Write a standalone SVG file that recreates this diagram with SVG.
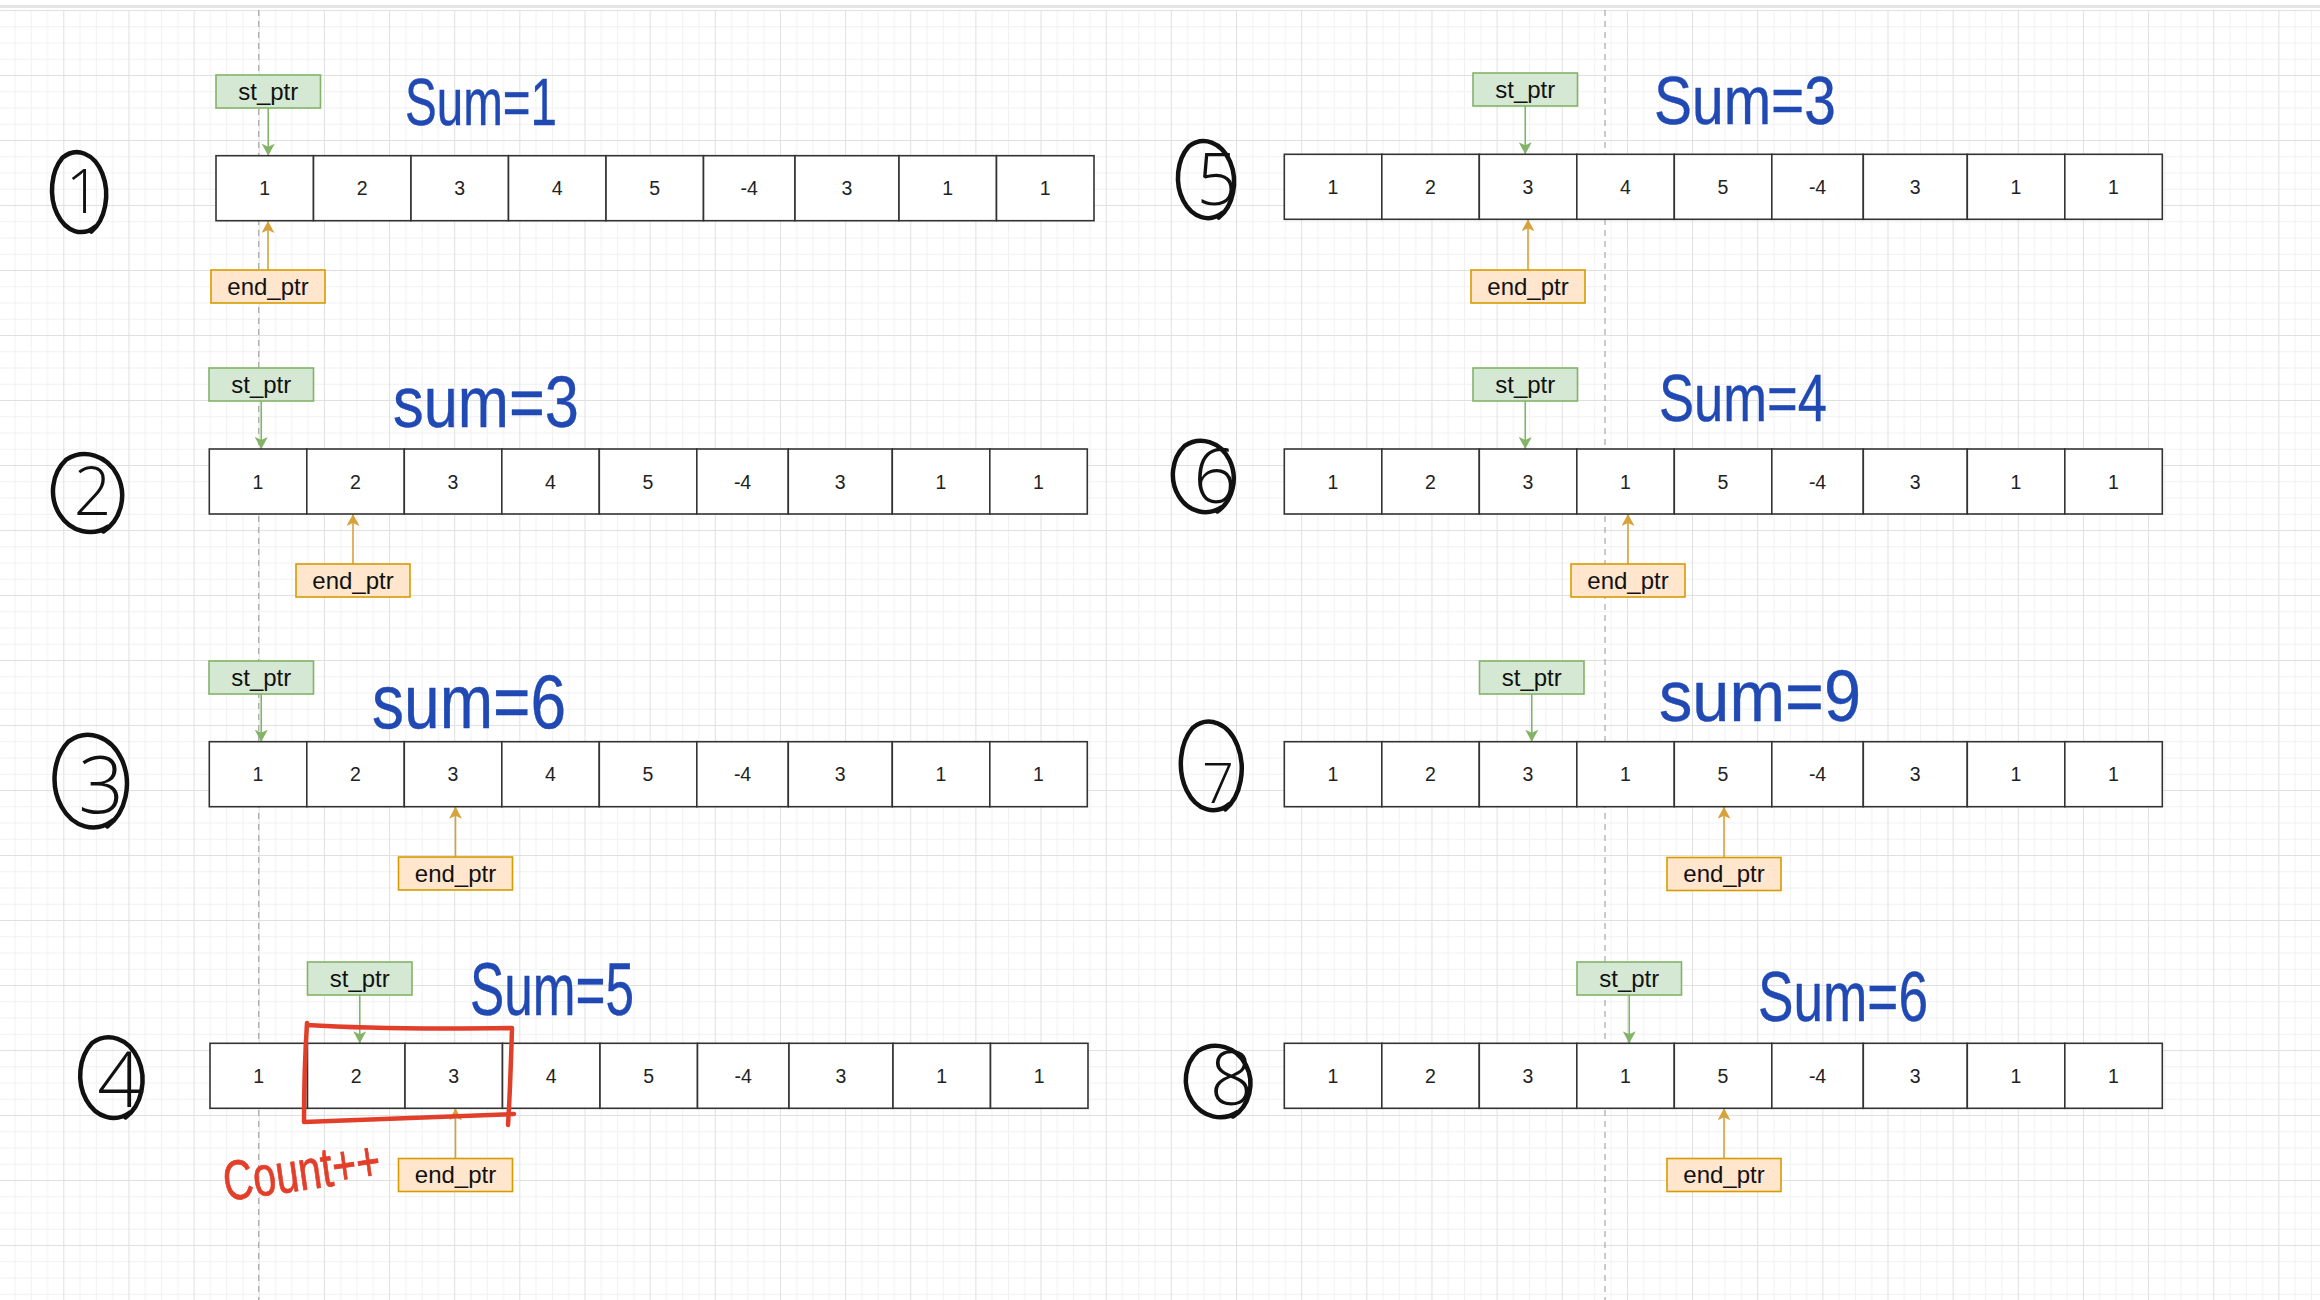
<svg xmlns="http://www.w3.org/2000/svg" xmlns:xlink="http://www.w3.org/1999/xlink" width="2320" height="1300" viewBox="0 0 2320 1300">
<style>
.cell{fill:#fff;stroke:#333;stroke-width:1.6}
.num{font-family:'Liberation Sans',Arial,sans-serif;font-size:19.5px;fill:#222;text-anchor:middle}
.stb{fill:#d5e8d4;stroke:#82b366;stroke-width:1.6}
.enb{fill:#ffe6cc;stroke:#d79b00;stroke-width:1.6}
.lbl{font-family:'Liberation Sans',Arial,sans-serif;font-size:24px;fill:#111;text-anchor:middle}
.cg{fill:none;stroke:#82b366;stroke-width:1.6;marker-end:url(#ag)}
.co{fill:none;stroke:#d6a23c;stroke-width:1.6;marker-end:url(#ao)}
.ring{fill:none;stroke:#111;stroke-width:4.5;stroke-linecap:round;stroke-linejoin:round}
.dig{font-family:'Open Sans','Liberation Sans',sans-serif;font-weight:300;fill:#111;text-anchor:middle}
.sum{font-family:'Liberation Sans',Arial,sans-serif;fill:#2149b4;stroke:#2149b4;stroke-width:0.4;stroke-linejoin:round}
.red{font-family:'Liberation Sans',Arial,sans-serif;fill:#e23f2b;stroke:#e23f2b;stroke-width:0.8;stroke-linejoin:round}
.redbox{fill:none;stroke:#e23f2b;stroke-width:4.5;stroke-linecap:round;stroke-linejoin:round}
</style>
<defs>
<pattern id="grid" x="63.3" y="10" width="65.15" height="65" patternUnits="userSpaceOnUse">
<path d="M16.79 0V65M33.075 0V65M49.36 0V65M0 16.75H65.15M0 33H65.15M0 49.25H65.15" stroke="#f1f1f1" stroke-width="1" fill="none"/>
<path d="M0.5 0V65M0 0.5H65.15" stroke="#e0e0e0" stroke-width="1" fill="none"/>
</pattern>
<marker id="ag" viewBox="0 0 12 13" refX="12" refY="6.5" markerWidth="12" markerHeight="13" markerUnits="userSpaceOnUse" orient="auto"><path d="M0,0 L12,6.5 L0,13 L3,6.5 Z" fill="#82b366"/></marker>
<marker id="ao" viewBox="0 0 12 13" refX="12" refY="6.5" markerWidth="12" markerHeight="13" markerUnits="userSpaceOnUse" orient="auto"><path d="M0,0 L12,6.5 L0,13 L3,6.5 Z" fill="#d6a23c"/></marker>
<g id="cells">
<rect class="cell" x="0" y="0" width="97.5" height="65"/>
<rect class="cell" x="97.5" y="0" width="97.5" height="65"/>
<rect class="cell" x="195" y="0" width="97.5" height="65"/>
<rect class="cell" x="292.5" y="0" width="97.5" height="65"/>
<rect class="cell" x="390" y="0" width="97.5" height="65"/>
<rect class="cell" x="487.5" y="0" width="91.5" height="65"/>
<rect class="cell" x="579" y="0" width="104" height="65"/>
<rect class="cell" x="683" y="0" width="97.5" height="65"/>
<rect class="cell" x="780.5" y="0" width="97.5" height="65"/>
</g>
</defs>

<g id="background">
<rect x="0" y="0" width="2320" height="1300" fill="#ffffff"/>
<rect x="0" y="10" width="2320" height="1290" fill="url(#grid)"/>
<rect x="0" y="5" width="2320" height="3" fill="#e4e4e4"/>
<line x1="258.7" y1="10" x2="258.7" y2="1300" stroke="#a8a8a8" stroke-width="1.2" stroke-dasharray="6 5"/>
<line x1="1605" y1="10" x2="1605" y2="1300" stroke="#a8a8a8" stroke-width="1.2" stroke-dasharray="6 5"/>
</g>

<g id="connectors">
<line class="cg" x1="268.25" y1="108" x2="268.25" y2="155.7"/>
<line class="co" x1="268" y1="270" x2="268" y2="221"/>
<line class="cg" x1="261.25" y1="401" x2="261.25" y2="449"/>
<line class="co" x1="353" y1="564" x2="353" y2="514"/>
<line class="cg" x1="261.25" y1="694" x2="261.25" y2="741.7"/>
<line class="co" x1="455.5" y1="857" x2="455.5" y2="806.7"/>
<line class="cg" x1="359.75" y1="995" x2="359.75" y2="1043.3"/>
<line class="co" x1="455.5" y1="1158.5" x2="455.5" y2="1108.3"/>
<line class="cg" x1="1525.25" y1="106" x2="1525.25" y2="154.3"/>
<line class="co" x1="1528" y1="270" x2="1528" y2="219.3"/>
<line class="cg" x1="1525.25" y1="401" x2="1525.25" y2="449"/>
<line class="co" x1="1628" y1="564" x2="1628" y2="514"/>
<line class="cg" x1="1531.75" y1="694" x2="1531.75" y2="741.7"/>
<line class="co" x1="1724" y1="857.5" x2="1724" y2="806.7"/>
<line class="cg" x1="1629.25" y1="995" x2="1629.25" y2="1043.3"/>
<line class="co" x1="1724" y1="1158.5" x2="1724" y2="1108.3"/>
</g>

<!-- Panel 1 -->
<g id="p1-array" transform="translate(216,155.7)">
<use href="#cells"/>
<text class="num" x="48.75" y="39.5">1</text><text class="num" x="146.25" y="39.5">2</text><text class="num" x="243.75" y="39.5">3</text><text class="num" x="341.25" y="39.5">4</text><text class="num" x="438.75" y="39.5">5</text><text class="num" x="533.25" y="39.5">-4</text><text class="num" x="631" y="39.5">3</text><text class="num" x="731.75" y="39.5">1</text><text class="num" x="829.25" y="39.5">1</text>
</g>
<g id="p1-st"><rect class="stb" x="216" y="75" width="104.5" height="33"/><text class="lbl" x="268.25" y="99.5">st_ptr</text></g>
<g id="p1-end"><rect class="enb" x="211" y="270" width="114" height="33"/><text class="lbl" x="268" y="294.5">end_ptr</text></g>
<g id="p1-num"><path class="ring" d="M95.5,226.4 A29,42 0 0 1 62.4,157.8 A29,42 0 1 1 91.4,231.5"/><text class="dig" x="83" y="213" font-size="60">1</text></g>
<g id="p1-sum"><text class="sum" x="405" y="125" font-size="66" textLength="152" lengthAdjust="spacingAndGlyphs">Sum=1</text></g>

<!-- Panel 2 -->
<g id="p2-array" transform="translate(209.3,449)">
<use href="#cells"/>
<text class="num" x="48.75" y="39.5">1</text><text class="num" x="146.25" y="39.5">2</text><text class="num" x="243.75" y="39.5">3</text><text class="num" x="341.25" y="39.5">4</text><text class="num" x="438.75" y="39.5">5</text><text class="num" x="533.25" y="39.5">-4</text><text class="num" x="631" y="39.5">3</text><text class="num" x="731.75" y="39.5">1</text><text class="num" x="829.25" y="39.5">1</text>
</g>
<g id="p2-st"><rect class="stb" x="209" y="368" width="104.5" height="33"/><text class="lbl" x="261.25" y="392.5">st_ptr</text></g>
<g id="p2-end"><rect class="enb" x="296" y="564" width="114" height="33"/><text class="lbl" x="353" y="588.5">end_ptr</text></g>
<g id="p2-num"><path class="ring" d="M108.5,526.5 A37,41 0 0 1 66.2,459.6 A37,41 0 1 1 103.3,531.5"/><text class="dig" x="92.5" y="515" font-size="66">2</text></g>
<g id="p2-sum"><text class="sum" x="393" y="427" font-size="72" textLength="186" lengthAdjust="spacingAndGlyphs">sum=3</text></g>

<!-- Panel 3 -->
<g id="p3-array" transform="translate(209.3,741.7)">
<use href="#cells"/>
<text class="num" x="48.75" y="39.5">1</text><text class="num" x="146.25" y="39.5">2</text><text class="num" x="243.75" y="39.5">3</text><text class="num" x="341.25" y="39.5">4</text><text class="num" x="438.75" y="39.5">5</text><text class="num" x="533.25" y="39.5">-4</text><text class="num" x="631" y="39.5">3</text><text class="num" x="731.75" y="39.5">1</text><text class="num" x="829.25" y="39.5">1</text>
</g>
<g id="p3-st"><rect class="stb" x="209" y="661" width="104.5" height="33"/><text class="lbl" x="261.25" y="685.5">st_ptr</text></g>
<g id="p3-end"><rect class="enb" x="398.5" y="857" width="114" height="33"/><text class="lbl" x="455.5" y="881.5">end_ptr</text></g>
<g id="p3-num"><path class="ring" d="M112.8,820.5 A38.5,48.5 0 0 1 68.7,741.3 A38.5,48.5 0 1 1 107.3,826.4"/><text class="dig" x="101" y="813" font-size="80">3</text></g>
<g id="p3-sum"><text class="sum" x="372" y="728" font-size="76" textLength="194" lengthAdjust="spacingAndGlyphs">sum=6</text></g>

<!-- Panel 4 -->
<g id="p4-array" transform="translate(210,1043.3)">
<use href="#cells"/>
<text class="num" x="48.75" y="39.5">1</text><text class="num" x="146.25" y="39.5">2</text><text class="num" x="243.75" y="39.5">3</text><text class="num" x="341.25" y="39.5">4</text><text class="num" x="438.75" y="39.5">5</text><text class="num" x="533.25" y="39.5">-4</text><text class="num" x="631" y="39.5">3</text><text class="num" x="731.75" y="39.5">1</text><text class="num" x="829.25" y="39.5">1</text>
</g>
<g id="p4-st"><rect class="stb" x="307.5" y="962" width="104.5" height="33"/><text class="lbl" x="359.75" y="986.5">st_ptr</text></g>
<g id="p4-end"><rect class="enb" x="398.5" y="1158.5" width="114" height="33"/><text class="lbl" x="455.5" y="1183">end_ptr</text></g>
<g id="p4-num"><path class="ring" d="M130.3,1112.3 A33.5,42.5 0 0 1 92,1043 A33.5,42.5 0 1 1 125.5,1117.4"/><text class="dig" x="119.5" y="1107" font-size="78">4</text></g>
<g id="p4-sum"><text class="sum" x="470" y="1015" font-size="74" textLength="164" lengthAdjust="spacingAndGlyphs">Sum=5</text></g>
<g id="p4-highlight">
<path class="redbox" d="M307,1025 C370,1029 440,1029 512,1028 C511,1060 510,1095 508,1125 M514,1114 C440,1117 370,1120 304,1122 C304,1090 305,1055 307,1023"/>
<text class="red" x="226" y="1201" font-size="56" textLength="158" lengthAdjust="spacingAndGlyphs" transform="rotate(-8 226 1201)">Count++</text>
</g>

<!-- Panel 5 -->
<g id="p5-array" transform="translate(1284.3,154.3)">
<use href="#cells"/>
<text class="num" x="48.75" y="39.5">1</text><text class="num" x="146.25" y="39.5">2</text><text class="num" x="243.75" y="39.5">3</text><text class="num" x="341.25" y="39.5">4</text><text class="num" x="438.75" y="39.5">5</text><text class="num" x="533.25" y="39.5">-4</text><text class="num" x="631" y="39.5">3</text><text class="num" x="731.75" y="39.5">1</text><text class="num" x="829.25" y="39.5">1</text>
</g>
<g id="p5-st"><rect class="stb" x="1473" y="73" width="104.5" height="33"/><text class="lbl" x="1525.25" y="97.5">st_ptr</text></g>
<g id="p5-end"><rect class="enb" x="1471" y="270" width="114" height="33"/><text class="lbl" x="1528" y="294.5">end_ptr</text></g>
<g id="p5-num"><path class="ring" d="M1223,212.6 A30,40.5 0 0 1 1188.7,146.5 A30,40.5 0 1 1 1218.8,217.5"/><text class="dig" x="1217" y="205" font-size="72">5</text></g>
<g id="p5-sum"><text class="sum" x="1654" y="124" font-size="68" textLength="182" lengthAdjust="spacingAndGlyphs">Sum=3</text></g>

<!-- Panel 6 -->
<g id="p6-array" transform="translate(1284.3,449)">
<use href="#cells"/>
<text class="num" x="48.75" y="39.5">1</text><text class="num" x="146.25" y="39.5">2</text><text class="num" x="243.75" y="39.5">3</text><text class="num" x="341.25" y="39.5">1</text><text class="num" x="438.75" y="39.5">5</text><text class="num" x="533.25" y="39.5">-4</text><text class="num" x="631" y="39.5">3</text><text class="num" x="731.75" y="39.5">1</text><text class="num" x="829.25" y="39.5">1</text>
</g>
<g id="p6-st"><rect class="stb" x="1473" y="368" width="104.5" height="33"/><text class="lbl" x="1525.25" y="392.5">st_ptr</text></g>
<g id="p6-end"><rect class="enb" x="1571" y="564" width="114" height="33"/><text class="lbl" x="1628" y="588.5">end_ptr</text></g>
<g id="p6-num"><path class="ring" d="M1221.8,507 A32.5,37.5 0 0 1 1184.6,445.8 A32.5,37.5 0 1 1 1217.2,511.5"/><text class="dig" x="1215" y="503" font-size="76">6</text></g>
<g id="p6-sum"><text class="sum" x="1659" y="421" font-size="66" textLength="168" lengthAdjust="spacingAndGlyphs">Sum=4</text></g>

<!-- Panel 7 -->
<g id="p7-array" transform="translate(1284.3,741.7)">
<use href="#cells"/>
<text class="num" x="48.75" y="39.5">1</text><text class="num" x="146.25" y="39.5">2</text><text class="num" x="243.75" y="39.5">3</text><text class="num" x="341.25" y="39.5">1</text><text class="num" x="438.75" y="39.5">5</text><text class="num" x="533.25" y="39.5">-4</text><text class="num" x="631" y="39.5">3</text><text class="num" x="731.75" y="39.5">1</text><text class="num" x="829.25" y="39.5">1</text>
</g>
<g id="p7-st"><rect class="stb" x="1479.5" y="661" width="104.5" height="33"/><text class="lbl" x="1531.75" y="685.5">st_ptr</text></g>
<g id="p7-end"><rect class="enb" x="1667" y="857.5" width="114" height="33"/><text class="lbl" x="1724" y="882">end_ptr</text></g>
<g id="p7-num"><path class="ring" d="M1229.8,803.8 A32.5,46.5 0 0 1 1192.6,727.9 A32.5,46.5 0 1 1 1225.2,809.4"/><text class="dig" x="1218" y="803" font-size="56">7</text></g>
<g id="p7-sum"><text class="sum" x="1659" y="721" font-size="72" textLength="202" lengthAdjust="spacingAndGlyphs">sum=9</text></g>

<!-- Panel 8 -->
<g id="p8-array" transform="translate(1284.3,1043.3)">
<use href="#cells"/>
<text class="num" x="48.75" y="39.5">1</text><text class="num" x="146.25" y="39.5">2</text><text class="num" x="243.75" y="39.5">3</text><text class="num" x="341.25" y="39.5">1</text><text class="num" x="438.75" y="39.5">5</text><text class="num" x="533.25" y="39.5">-4</text><text class="num" x="631" y="39.5">3</text><text class="num" x="731.75" y="39.5">1</text><text class="num" x="829.25" y="39.5">1</text>
</g>
<g id="p8-st"><rect class="stb" x="1577" y="962" width="104.5" height="33"/><text class="lbl" x="1629.25" y="986.5">st_ptr</text></g>
<g id="p8-end"><rect class="enb" x="1667" y="1158.5" width="114" height="33"/><text class="lbl" x="1724" y="1183">end_ptr</text></g>
<g id="p8-num"><path class="ring" d="M1237.8,1112 A34.5,37.5 0 0 1 1198.3,1050.8 A34.5,37.5 0 1 1 1232.9,1116.5"/><text class="dig" x="1231.5" y="1105" font-size="76">8</text></g>
<g id="p8-sum"><text class="sum" x="1758" y="1021" font-size="70" textLength="170" lengthAdjust="spacingAndGlyphs">Sum=6</text></g>
</svg>
